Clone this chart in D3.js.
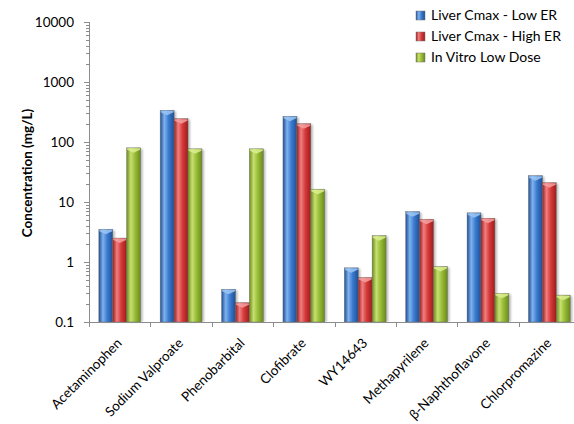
<!DOCTYPE html>
<html>
<head>
<meta charset="utf-8">
<script src="https://cdn.jsdelivr.net/npm/d3@7"></script>
<style>
  html, body { margin: 0; padding: 0; background: #fff; }
  svg { display: block; font-family: Lato, "Open Sans", sans-serif; }
</style>
</head>
<body>
<svg id="chart" width="574" height="424"></svg>
<script>
// Compounds on the x axis
const categories = ["Acetaminophen", "Sodium Valproate", "Phenobarbital", "Clofibrate",
  "WY14643", "Methapyrilene", "\u03B2-Naphthoflavone", "Chlorpromazine"];

// Series names
const seriesNames = ["Liver Cmax - Low ER", "Liver Cmax - High  ER", "In Vitro  Low Dose"];

// Concentrations (mg/L), one array per series
const liverLowER  = [3.5, 337, 0.35, 268, 0.80, 6.9, 6.6, 27.5];
const liverHighER = [2.5, 245, 0.21, 202, 0.55, 5.15, 5.35, 21];
const inVitroLow  = [80, 77, 77, 16.3, 2.75, 0.84, 0.30, 0.28];

// Log-axis tick labels
const yTicks = [0.1, 1, 10, 100, 1000, 10000];

const seriesValues = [liverLowER, liverHighER, inVitroLow];
const palette = [
  { dark: "#1f4f94", mid: "#3b7bd0", light: "#7fb2ee", cap: "#9cc6f4" },
  { dark: "#9e1c1c", mid: "#d63a3a", light: "#f08080", cap: "#f5a0a0" },
  { dark: "#6b8a1c", mid: "#98bd38", light: "#c8e070", cap: "#dcef90" }
];

const svg = d3.select("#chart");
const defs = svg.append("defs");

palette.forEach((c, i) => {
  const g = defs.append("linearGradient").attr("id", "bar" + i)
    .attr("x1", "0%").attr("x2", "100%").attr("y1", "0%").attr("y2", "0%");
  g.append("stop").attr("offset", "0%").attr("stop-color", c.dark);
  g.append("stop").attr("offset", "30%").attr("stop-color", c.light);
  g.append("stop").attr("offset", "60%").attr("stop-color", c.mid);
  g.append("stop").attr("offset", "100%").attr("stop-color", c.dark);
});

const shadow = defs.append("filter").attr("id", "shadow")
  .attr("x", "-20%").attr("y", "-5%").attr("width", "160%").attr("height", "120%");
shadow.append("feGaussianBlur").attr("stdDeviation", 1.2);

const plotLeft = 89, plotRight = 580, plotTop = 22, plotBottom = 322;

const x = d3.scaleBand().domain(categories).range([plotLeft, plotRight]).padding(0);
const xInner = d3.scaleBand().domain(d3.range(seriesNames.length))
  .range([x.bandwidth() * 0.16, x.bandwidth() * 0.84]).padding(0);
const y = d3.scaleLog().domain([0.1, 10000]).range([plotBottom, plotTop]);

const axisColor = "#8c8c8c";

// Bars
const groups = svg.append("g").selectAll("g")
  .data(categories).join("g")
  .attr("transform", d => `translate(${x(d)},0)`);

groups.each(function(cat, ci) {
  const g = d3.select(this);
  seriesValues.forEach((vals, si) => {
    const v = vals[ci];
    const bx = xInner(si), bw = xInner.bandwidth();
    const by = y(v), bh = plotBottom - by;
    // soft shadow on the right side
    g.append("rect")
      .attr("x", bx + 2).attr("y", by + 1).attr("width", bw).attr("height", bh - 1)
      .attr("fill", "#000").attr("opacity", 0.28).attr("filter", "url(#shadow)");
  });
  seriesValues.forEach((vals, si) => {
    const v = vals[ci];
    const bx = xInner(si), bw = xInner.bandwidth();
    const by = y(v), bh = plotBottom - by;
    g.append("rect")
      .attr("x", bx).attr("y", by).attr("width", bw).attr("height", bh)
      .attr("fill", `url(#bar${si})`)
      .attr("stroke", "#6a6a6a").attr("stroke-width", 0.6).attr("stroke-opacity", 0.7);
    // bevelled top cap
    const cap = d3.path();
    cap.moveTo(bx + 0.5, by + 0.5);
    cap.lineTo(bx + bw - 0.5, by + 0.5);
    cap.lineTo(bx + bw - 0.5, by + 2);
    cap.lineTo(bx + bw * 0.5, by + 5);
    cap.lineTo(bx + 0.5, by + 2);
    cap.closePath();
    g.append("path").attr("d", cap.toString())
      .attr("fill", palette[si].cap).attr("opacity", 0.85);
  });
});

// Y axis with major and minor ticks
const yAxisG = svg.append("g");
yAxisG.append("line").attr("x1", plotLeft + 0.5).attr("x2", plotLeft + 0.5)
  .attr("y1", plotTop).attr("y2", plotBottom).attr("stroke", axisColor);
const minor = [];
for (let e = -1; e < 4; e++) {
  for (let m = 2; m <= 9; m++) minor.push(m * Math.pow(10, e));
}
yAxisG.selectAll("line.minor").data(minor).join("line").attr("class", "minor")
  .attr("x1", plotLeft - 3).attr("x2", plotLeft)
  .attr("y1", d => Math.round(y(d)) + 0.5).attr("y2", d => Math.round(y(d)) + 0.5)
  .attr("stroke", axisColor);
yAxisG.selectAll("line.major").data(yTicks).join("line").attr("class", "major")
  .attr("x1", plotLeft - 5).attr("x2", plotLeft)
  .attr("y1", d => Math.round(y(d)) + 0.5).attr("y2", d => Math.round(y(d)) + 0.5)
  .attr("stroke", axisColor);
yAxisG.selectAll("text").data(yTicks).join("text")
  .attr("x", plotLeft - 15).attr("y", d => y(d)).attr("dy", "0.35em")
  .attr("text-anchor", "end").attr("font-size", 13.5).attr("fill", "#000")
  .text(d => d3.format("~g")(d));

// Y axis title
svg.append("text")
  .attr("transform", `translate(32,173) rotate(-90)`)
  .attr("text-anchor", "middle").attr("font-size", 13.5).attr("font-weight", "bold")
  .text("Concentration (mg/L)");

// X axis
const xAxisG = svg.append("g");
xAxisG.append("line").attr("x1", plotLeft - 5).attr("x2", plotRight)
  .attr("y1", plotBottom + 0.5).attr("y2", plotBottom + 0.5).attr("stroke", axisColor);
xAxisG.selectAll("line.tick").data(categories.concat([null])).join("line").attr("class", "tick")
  .attr("x1", (d, i) => Math.round(plotLeft + i * x.bandwidth()) + 0.5)
  .attr("x2", (d, i) => Math.round(plotLeft + i * x.bandwidth()) + 0.5)
  .attr("y1", plotBottom).attr("y2", plotBottom + 5).attr("stroke", axisColor);
xAxisG.selectAll("text").data(categories).join("text")
  .attr("transform", d => `translate(${x(d) + x.bandwidth() / 2 + 3},${plotBottom + 22}) rotate(-45)`)
  .attr("text-anchor", "end").attr("font-size", 13.5).attr("fill", "#000")
  .text(d => d);

// Legend
const legend = svg.append("g").attr("transform", "translate(416,11)");
seriesNames.forEach((name, i) => {
  const row = legend.append("g").attr("transform", `translate(0,${i * 21})`);
  row.append("rect").attr("x", 0).attr("y", 0).attr("width", 9).attr("height", 9)
    .attr("fill", `url(#bar${i})`).attr("stroke", "#777").attr("stroke-width", 0.5);
  row.append("text").attr("x", 15).attr("y", 4.5).attr("dy", "0.35em")
    .attr("font-size", 14).attr("fill", "#000").text(name);
});
</script>
</body>
</html>
